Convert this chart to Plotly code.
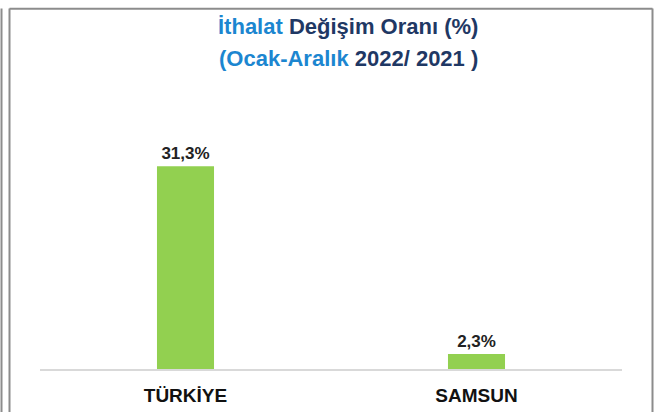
import plotly.graph_objects as go

categories = ['TÜRKİYE', 'SAMSUN']
values = [31.3, 2.3]
value_labels = ['31,3%', '2,3%']

W, H = 657, 418
L, R, T, B = 40, 35, 100, 42
PW, PH = W - L - R, H - T - B

def px(x):
    return (x - L) / PW

def py(y):
    return (H - B - y) / PH

FONT = 'Liberation Sans, Arial'
BLUE = '#1C86D0'
NAVY = '#1F3864'
FRAME = '#8C8C8C'

fig = go.Figure()
fig.add_trace(go.Bar(
    x=categories, y=values,
    marker=dict(color='#92D050', line=dict(width=0)),
    text=[f'<b>{t}</b>' for t in value_labels], textposition='outside', cliponaxis=False,
    textfont=dict(family=FONT, size=17, color='#222222'),
    width=0.196,
))

fig.update_layout(
    width=W, height=H,
    margin=dict(l=L, r=R, t=T, b=B),
    paper_bgcolor='white', plot_bgcolor='white',
    showlegend=False,
    bargap=0.8,
    xaxis=dict(showline=True, linecolor='#D9D9D9', linewidth=2, ticks='',
               tickvals=categories, ticktext=[f'<b>{c}</b>' for c in categories],
               ticklabelstandoff=8,
               tickfont=dict(family=FONT, size=19, color='#111111')),
    yaxis=dict(visible=False, range=[0, PH / 6.65]),
    annotations=[
        dict(text=f"<b><span style='color:{BLUE}'>İthalat</span> Değişim Oranı (%)</b>",
             x=px(348), y=py(25), xref='paper', yref='paper', showarrow=False,
             xanchor='center', yanchor='middle',
             font=dict(family=FONT, size=22, color=NAVY)),
        dict(text=f"<b><span style='color:{BLUE}'>(Ocak-Aralık</span> 2022/ 2021 )</b>",
             x=px(348), y=py(57), xref='paper', yref='paper', showarrow=False,
             xanchor='center', yanchor='middle',
             font=dict(family=FONT, size=22, color=NAVY)),
    ],
    shapes=[
        dict(type='line', xref='paper', yref='paper', x0=px(1.5), x1=px(1.5), y0=py(6), y1=py(420),
             line=dict(color=FRAME, width=2)),
        dict(type='line', xref='paper', yref='paper', x0=px(9.5), x1=px(9.5), y0=py(6), y1=py(420),
             line=dict(color=FRAME, width=2)),
        dict(type='line', xref='paper', yref='paper', x0=px(9.5), x1=px(652.5), y0=py(6.5), y1=py(6.5),
             line=dict(color=FRAME, width=2)),
        dict(type='line', xref='paper', yref='paper', x0=px(652.5), x1=px(652.5), y0=py(6), y1=py(420),
             line=dict(color=FRAME, width=2)),
    ],
)

fig.write_html("out.html", config={'displayModeBar': False},
               post_script="document.body.style.margin='0';"
                           "document.documentElement.style.overflow='hidden';"
                           "window.scrollTo(0,0);")
